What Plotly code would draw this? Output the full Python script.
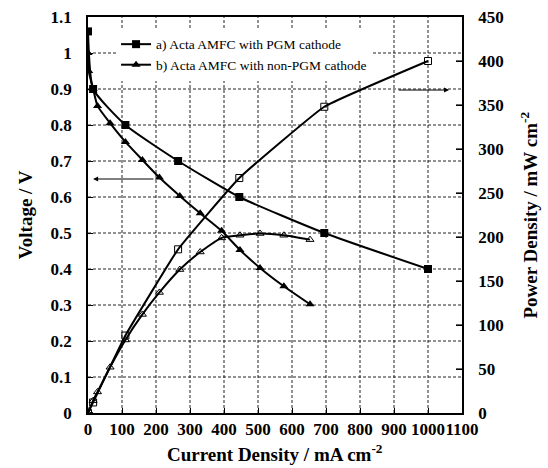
import plotly.graph_objects as go

# Polarization data: current density (mA cm^-2), cell voltage (V), power density (mW cm^-2)
pgm_current = [0, 15, 110, 265, 445, 695, 1000]
pgm_voltage = [1.06, 0.90, 0.80, 0.70, 0.60, 0.50, 0.40]
pgm_power = [0, 12, 88, 186, 267, 348, 400]

npgm_current = [0, 2, 15, 28, 65, 110, 160, 210, 270, 330, 393, 447, 506, 576, 653]
npgm_voltage = [1.00, 0.95, 0.90, 0.853, 0.805, 0.753, 0.703, 0.654, 0.603, 0.555,
                0.506, 0.453, 0.403, 0.352, 0.302]
npgm_power = [0, 2, 14, 24, 52, 83, 112, 137, 163, 183, 199, 202, 204, 202, 197]

pgm_label = "a) Acta AMFC with PGM cathode"
npgm_label = "b) Acta AMFC with non-PGM cathode"

x_ticks = list(range(0, 1101, 100))
v_ticks = [round(0.1 * i, 1) for i in range(12)]
p_ticks = list(range(0, 451, 50))

X_MAX, V_MAX, P_MAX = 1100, 1.1, 450
SERIF = "Liberation Serif"


def bold(s):
    return f"<b>{s}</b>"


def curve(smoothing):
    return dict(color="black", width=2, shape="spline", smoothing=smoothing)


def segment(xs, ys, axis, line):
    return go.Scatter(x=xs, y=ys, mode="lines", showlegend=False, hoverinfo="skip",
                      line=line, yaxis=axis)


fig = go.Figure()

# Dashed grid at the interior ticks, one short line per gridline
grid_line = dict(color="#222", width=1, dash="3px,2px")
for xv in x_ticks[1:-1]:
    fig.add_trace(segment([xv, xv], [0, V_MAX], "y", grid_line))
for yv in v_ticks[1:-1]:
    fig.add_trace(segment([0, X_MAX], [yv, yv], "y", grid_line))

# Inward tick marks on the power density axis
tick_len = X_MAX * 6 / 374
for pv in p_ticks[1:-1]:
    fig.add_trace(segment([X_MAX - tick_len, X_MAX], [pv, pv], "y2",
                          dict(color="black", width=1.2)))

# Voltage curves (left axis)
fig.add_trace(go.Scatter(
    x=pgm_current, y=pgm_voltage, name=pgm_label, mode="lines+markers",
    line=curve(0.5), marker=dict(symbol="square", size=8, color="black"),
    yaxis="y"))
fig.add_trace(go.Scatter(
    x=npgm_current, y=npgm_voltage, name=npgm_label, mode="lines+markers",
    line=curve(0.5), marker=dict(symbol="triangle-up", size=8, color="black"),
    yaxis="y"))

# Power density curves (right axis)
fig.add_trace(go.Scatter(
    x=pgm_current, y=pgm_power, showlegend=False, mode="lines+markers",
    line=curve(0.3),
    marker=dict(symbol="square-open", size=7, color="black", line=dict(width=1)),
    yaxis="y2"))
fig.add_trace(go.Scatter(
    x=npgm_current, y=npgm_power, showlegend=False, mode="lines+markers",
    line=curve(0.5),
    marker=dict(symbol="triangle-up-open", size=7, color="black", line=dict(width=1)),
    yaxis="y2"))

tick_font = dict(family=SERIF, size=17, color="black")
title_font = dict(family=SERIF, size=19, color="black")

fig.update_layout(
    width=548, height=468,
    margin=dict(l=88, r=86, t=17, b=55),
    paper_bgcolor="white", plot_bgcolor="white",
    font=dict(family=SERIF, color="black"),
    xaxis=dict(
        range=[0, X_MAX], tickvals=x_ticks, ticktext=[bold(v) for v in x_ticks],
        tickangle=0, automargin=False, showgrid=False,
        showline=True, linecolor="black", linewidth=1.5, mirror=True,
        ticks="inside", ticklen=5, tickcolor="black",
        tickfont=tick_font, zeroline=False,
    ),
    yaxis=dict(
        range=[0, V_MAX], tickvals=v_ticks, ticktext=[bold(f"{v:g}") for v in v_ticks],
        automargin=False, showgrid=False,
        showline=True, linecolor="black", linewidth=1.5,
        ticks="inside", ticklen=5, tickcolor="black",
        tickfont=tick_font, zeroline=False, ticklabelstandoff=11,
    ),
    yaxis2=dict(
        range=[0, P_MAX], tickvals=p_ticks, ticktext=[bold(v) for v in p_ticks],
        overlaying="y", side="right", automargin=False,
        showgrid=False, showline=True, linecolor="black", linewidth=1.5,
        ticks="inside", ticklen=6, tickcolor="black",
        tickfont=tick_font, zeroline=False, ticklabelstandoff=11,
    ),
    legend=dict(
        x=0.075, y=0.97, xanchor="left", yanchor="top",
        bgcolor="white", borderwidth=0,
        font=dict(family=SERIF, size=13.5, color="black"),
        tracegroupgap=0, itemwidth=30,
    ),
    annotations=[
        # axis titles
        dict(text=bold("Current Density / mA cm<sup>-2</sup>"), xref="paper", yref="paper",
             x=0.5, y=-0.1, xanchor="center", yanchor="middle", showarrow=False,
             font=title_font),
        dict(text=bold("Voltage / V"), xref="paper", yref="paper",
             x=-0.168, y=0.5, xanchor="center", yanchor="middle", showarrow=False,
             textangle=-90, font=title_font),
        dict(text=bold("Power Density / mW cm<sup>-2</sup>"), xref="paper", yref="paper",
             x=1.178, y=0.5, xanchor="center", yanchor="middle", showarrow=False,
             textangle=-90, font=title_font),
        # arrow pointing to the voltage axis
        dict(x=15, y=0.65, ax=197, ay=0.65, xref="x", yref="y", axref="x", ayref="y",
             showarrow=True, arrowhead=2, arrowsize=1, arrowwidth=1, arrowcolor="black",
             text=""),
        # arrow pointing to the power density axis
        dict(x=1062, y=367, ax=909, ay=367, xref="x", yref="y2", axref="x", ayref="y2",
             showarrow=True, arrowhead=2, arrowsize=1, arrowwidth=1, arrowcolor="black",
             text=""),
    ],
)

fig.write_html("out.html")
